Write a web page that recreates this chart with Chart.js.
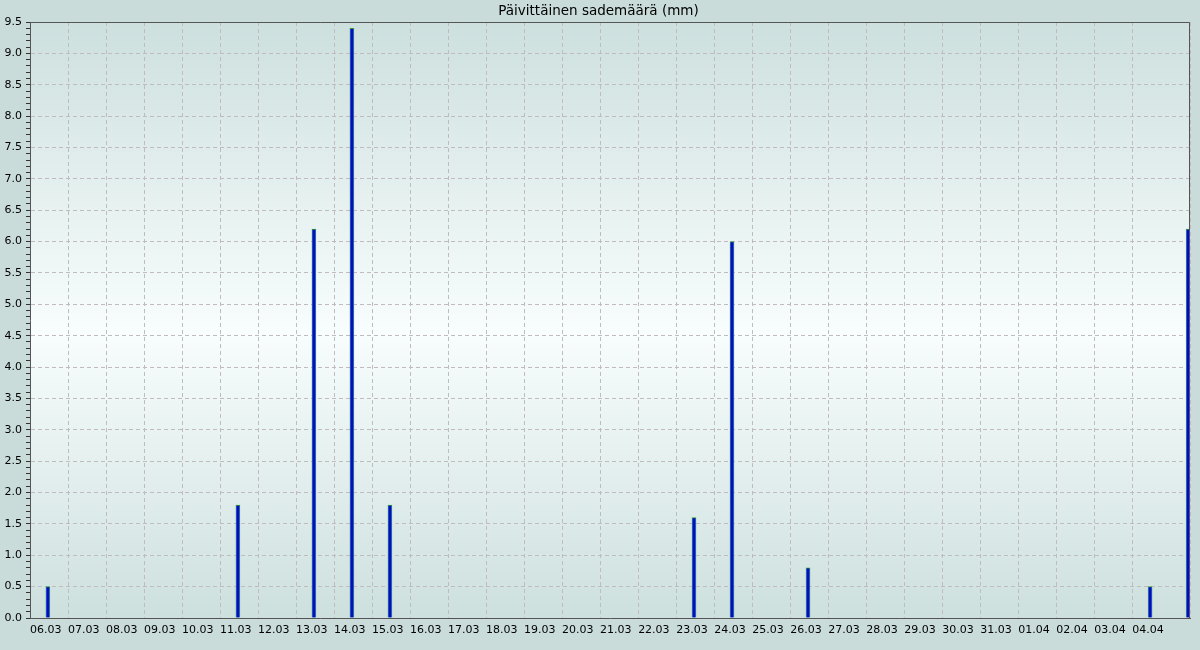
<!DOCTYPE html>
<html lang="fi">
<head>
    <meta charset="UTF-8">
    <title>Päivittäinen sademäärä</title>
    <script src="https://cdn.jsdelivr.net/npm/chart.js"></script>
    <style>
        html, body {
            margin: 0;
            padding: 0;
            background: #c9dcda;
        }
        canvas {
            display: block;
        }
    </style>
</head>
<body>
    <canvas id="rainChart" width="1200" height="650"></canvas>

    <script>
        // Day labels on the x axis (the axis ends halfway through the last day)
        const dayLabels = ["06.03", "07.03", "08.03", "09.03", "10.03", "11.03", "12.03", "13.03",
            "14.03", "15.03", "16.03", "17.03", "18.03", "19.03", "20.03", "21.03", "22.03",
            "23.03", "24.03", "25.03", "26.03", "27.03", "28.03", "29.03", "30.03", "31.03",
            "01.04", "02.04", "03.04", "04.04", "05.04"];

        // Days with rain and the amount (mm)
        const rainDates = ["06.03", "11.03", "13.03", "14.03", "15.03", "23.03", "24.03", "26.03", "04.04", "05.04"];
        const rainValues = [0.5, 1.8, 6.2, 9.4, 1.8, 1.6, 6.0, 0.8, 0.5, 6.2];

        const xMax = 30.52;      // axis stops a little past noon of the last day
        const barPos = 0.47;     // bar sits near midday inside its day
        const yMax = 9.5;

        const points = rainDates.map((d, i) => ({ x: dayLabels.indexOf(d) + barPos, y: rainValues[i] }));

        const isMajor = v => Math.abs(v * 2 - Math.round(v * 2)) < 1e-6;

        // background + frame around the plot
        const plotBg = {
            id: "plotBg",
            beforeDraw(chart) {
                const { ctx, chartArea: a } = chart;
                ctx.save();
                ctx.fillStyle = "#c9dcda";
                ctx.fillRect(0, 0, chart.width, chart.height);
                const g = ctx.createLinearGradient(0, a.top, 0, a.bottom);
                g.addColorStop(0, "#cde0de");
                g.addColorStop(0.52, "#f8fdfd");
                g.addColorStop(1, "#cde0de");
                ctx.fillStyle = g;
                ctx.fillRect(a.left, a.top, a.right - a.left, a.bottom - a.top);
                ctx.restore();
            },
            afterDraw(chart) {
                const { ctx, chartArea: a } = chart;
                ctx.save();
                ctx.strokeStyle = "#555";
                ctx.lineWidth = 1;
                ctx.beginPath();
                ctx.moveTo(Math.round(a.left) + 0.5, Math.round(a.top) + 0.5);
                ctx.lineTo(Math.round(a.right) - 0.5, Math.round(a.top) + 0.5);
                ctx.lineTo(Math.round(a.right) - 0.5, Math.round(a.bottom) + 0.5);
                ctx.stroke();
                ctx.restore();
            }
        };

        const font = { family: "'DejaVu Sans', sans-serif", size: 11 };

        new Chart(document.getElementById("rainChart"), {
            type: "bar",
            data: {
                datasets: [{
                    label: "Sademäärä (mm)",
                    data: points,
                    backgroundColor: "#0000ff",
                    borderColor: "#339933",
                    borderWidth: 1,
                    borderSkipped: "start",
                    barThickness: 4
                }]
            },
            options: {
                responsive: false,
                animation: false,
                layout: { padding: { left: 0, right: 3, top: 0, bottom: 0 } },
                plugins: {
                    legend: { display: false },
                    tooltip: { enabled: false },
                    title: {
                        display: true,
                        text: "Päivittäinen sademäärä (mm)",
                        color: "#000",
                        font: { family: "'DejaVu Sans', sans-serif", size: 13.5, weight: "normal" },
                        padding: { top: 3, bottom: 2.8 }
                    }
                },
                scales: {
                    x: {
                        type: "linear",
                        min: 0,
                        max: xMax,
                        offset: false,
                        afterFit(scale) { scale.height = 32; },
                        ticks: {
                            stepSize: 1,
                            autoSkip: false,
                            maxRotation: 0,
                            align: "start",
                            padding: 6,
                            color: "#000",
                            font: font,
                            callback(value) {
                                const i = Math.round(value);
                                if (Math.abs(value - i) > 1e-6 || value > this.max - 1) return "";
                                return dayLabels[i] || "";
                            }
                        },
                        grid: {
                            offset: false,
                            drawTicks: false,
                            color: "#c0bcbe",
                            lineWidth: 1
                        },
                        border: { color: "#555", width: 1, dash: [4, 3] }
                    },
                    y: {
                        min: 0,
                        max: yMax,
                        afterFit(scale) { scale.width = 30; },
                        ticks: {
                            stepSize: 0.1,
                            maxTicksLimit: 1000,
                            autoSkip: false,
                            padding: 4,
                            color: "#000",
                            font: font,
                            callback(value) {
                                return isMajor(value) ? Number(value).toFixed(1) : "";
                            }
                        },
                        grid: {
                            drawTicks: true,
                            tickLength: 4,
                            tickColor: "#333",
                            color: ctx => (ctx.tick && isMajor(ctx.tick.value)) ? "#c0bcbe" : "rgba(0,0,0,0)",
                            lineWidth: 1
                        },
                        border: { color: "#555", width: 1, dash: [4, 3] }
                    },
                    // empty strip on the right so the plot ends at the same place as the original
                    yRight: {
                        position: "right",
                        min: 0,
                        max: yMax,
                        afterFit(scale) { scale.width = 7; },
                        ticks: { display: false },
                        grid: { display: false },
                        border: { display: false }
                    }
                }
            },
            plugins: [plotBg]
        });
    </script>
</body>
</html>
